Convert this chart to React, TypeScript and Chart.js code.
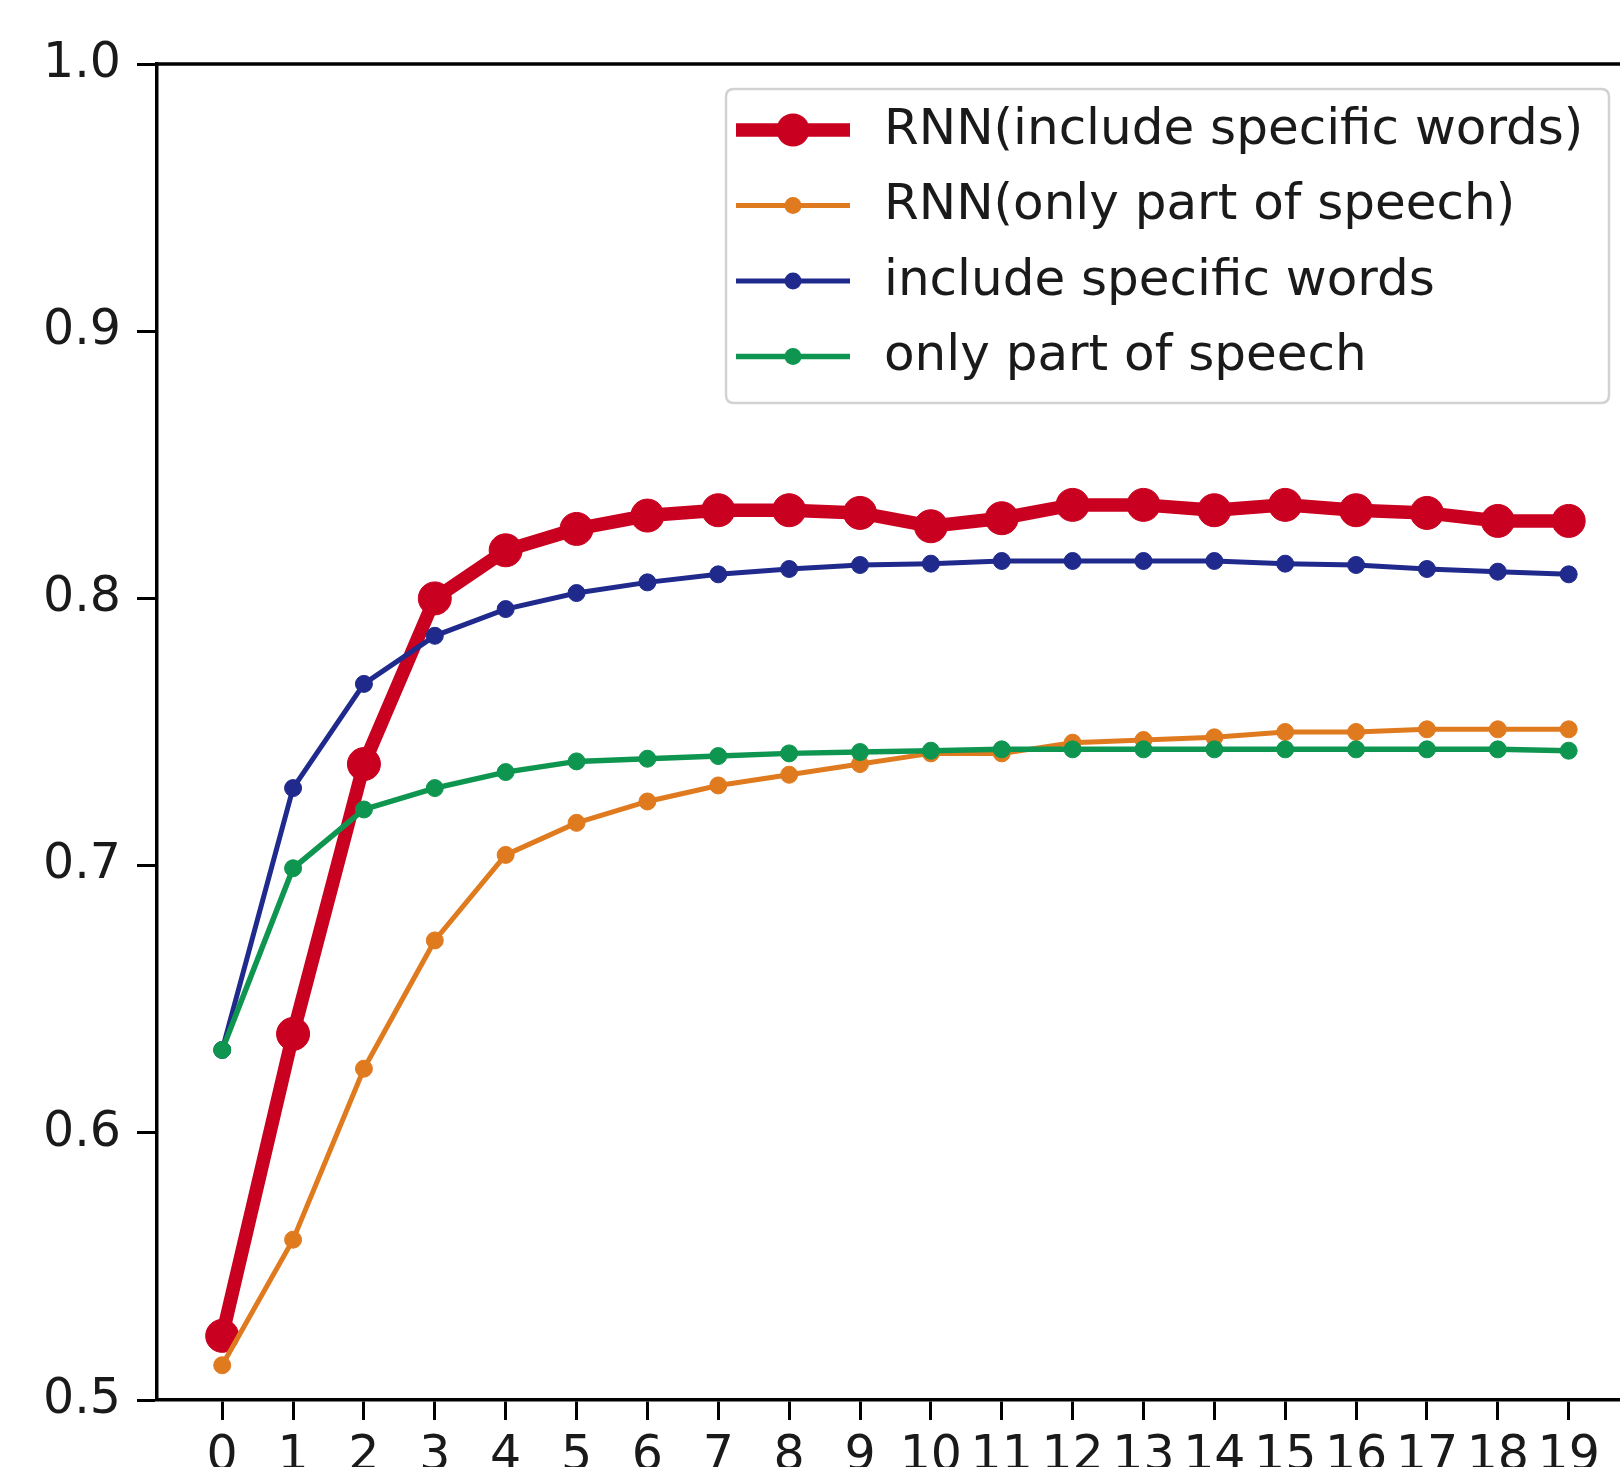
import React, { useEffect, useRef } from "react";
import { Chart, registerables } from "chart.js";

Chart.register(...registerables);

// ---- data ----
const epochs = [0, 1, 2, 3, 4, 5, 6, 7, 8, 9, 10, 11, 12, 13, 14, 15, 16, 17, 18, 19];
const xTickLabels = ["0", "1", "2", "3", "4", "5", "6", "7", "8", "9", "10", "11", "12", "13", "14", "15", "16", "17", "18", "19"];
const yTickValues = [0.5, 0.6, 0.7, 0.8, 0.9, 1.0];
const yTickLabels = ["0.5", "0.6", "0.7", "0.8", "0.9", "1.0"];

const seriesLabels = [
  "RNN(include specific words)",
  "RNN(only part of speech)",
  "include specific words",
  "only part of speech",
];

const rnnSpecificWords = [0.524, 0.637, 0.738, 0.800, 0.818, 0.826, 0.831, 0.833, 0.833, 0.832, 0.827, 0.830, 0.835, 0.835, 0.833, 0.835, 0.833, 0.832, 0.829, 0.829];
const rnnPartOfSpeech = [0.513, 0.560, 0.624, 0.672, 0.704, 0.716, 0.724, 0.730, 0.734, 0.738, 0.742, 0.742, 0.746, 0.747, 0.748, 0.750, 0.750, 0.751, 0.751, 0.751];
const specificWords = [0.631, 0.729, 0.768, 0.786, 0.796, 0.802, 0.806, 0.809, 0.811, 0.8125, 0.813, 0.814, 0.814, 0.814, 0.814, 0.813, 0.8125, 0.811, 0.810, 0.809];
const partOfSpeech = [0.631, 0.699, 0.721, 0.729, 0.735, 0.739, 0.740, 0.741, 0.742, 0.7425, 0.743, 0.7435, 0.7435, 0.7435, 0.7435, 0.7435, 0.7435, 0.7435, 0.7435, 0.743];

const seriesColors = ["#C9001F", "#E07A1F", "#1F2A8C", "#0E9650"];

const FONT = "'DejaVu Sans', sans-serif";

const frameAndLegend = {
  id: "frameAndLegend",
  afterDatasetsDraw(chart: any) {
    const ctx = chart.ctx as CanvasRenderingContext2D;
    const a = chart.chartArea;
    ctx.save();
    // top spine
    ctx.strokeStyle = "#000";
    ctx.lineWidth = 3.5;
    ctx.beginPath();
    ctx.moveTo(a.left - 1.75, a.top);
    ctx.lineTo(a.right, a.top);
    ctx.stroke();

    // legend box
    const bx = a.right - 910;
    const by = a.top + 25;
    const bw = 883;
    const bh = 314;
    const r = 8;
    ctx.beginPath();
    ctx.moveTo(bx + r, by);
    ctx.lineTo(bx + bw - r, by);
    ctx.quadraticCurveTo(bx + bw, by, bx + bw, by + r);
    ctx.lineTo(bx + bw, by + bh - r);
    ctx.quadraticCurveTo(bx + bw, by + bh, bx + bw - r, by + bh);
    ctx.lineTo(bx + r, by + bh);
    ctx.quadraticCurveTo(bx, by + bh, bx, by + bh - r);
    ctx.lineTo(bx, by + r);
    ctx.quadraticCurveTo(bx, by, bx + r, by);
    ctx.closePath();
    ctx.fillStyle = "rgba(255,255,255,0.85)";
    ctx.fill();
    ctx.strokeStyle = "#d2d2d2";
    ctx.lineWidth = 2.5;
    ctx.stroke();

    chart.data.datasets.forEach((ds: any, i: number) => {
      const y = by + 41 + i * 75.5;
      ctx.strokeStyle = ds.borderColor;
      ctx.lineWidth = ds.borderWidth;
      ctx.lineCap = "butt";
      ctx.beginPath();
      ctx.moveTo(bx + 10, y);
      ctx.lineTo(bx + 124, y);
      ctx.stroke();
      ctx.fillStyle = ds.pointBackgroundColor;
      ctx.beginPath();
      ctx.arc(bx + 67, y, ds.pointRadius, 0, Math.PI * 2);
      ctx.fill();
      ctx.fillStyle = "#1a1a1a";
      ctx.font = `50px ${FONT}`;
      ctx.textAlign = "left";
      ctx.textBaseline = "middle";
      ctx.fillText(ds.label, bx + 158, y + 1);
    });
    ctx.restore();
  },
};

export default function App() {
  const canvasRef = useRef<HTMLCanvasElement | null>(null);

  useEffect(() => {
    if (!canvasRef.current) return;
    const mk = (label: string, values: number[], color: string, width: number, radius: number, order: number) => ({
      label,
      data: epochs.map((e, i) => ({ x: e, y: values[i] })),
      borderColor: color,
      backgroundColor: color,
      pointBackgroundColor: color,
      pointBorderColor: color,
      borderWidth: width,
      pointRadius: radius,
      pointBorderWidth: 1,
      pointStyle: "circle",
      tension: 0,
      fill: false,
      order,
    });

    const tickFont = { family: FONT, size: 49 };

    const chart = new Chart(canvasRef.current, {
      type: "line",
      data: {
        datasets: [
          mk(seriesLabels[0], rnnSpecificWords, seriesColors[0], 13.5, 16.5, 4),
          mk(seriesLabels[1], rnnPartOfSpeech, seriesColors[1], 5, 8.5, 3),
          mk(seriesLabels[2], specificWords, seriesColors[2], 5, 8.5, 2),
          mk(seriesLabels[3], partOfSpeech, seriesColors[3], 5.5, 8.5, 1),
        ],
      },
      options: {
        animation: false,
        responsive: false,
        devicePixelRatio: 1,
        layout: { padding: { top: 64, right: 44, left: 0, bottom: 0 } },
        plugins: { legend: { display: false }, tooltip: { enabled: false } },
        scales: {
          x: {
            type: "linear",
            min: -0.92,
            max: 19.95,
            afterBuildTicks: (s: any) => {
              s.ticks = epochs.map((v) => ({ value: v }));
            },
            afterFit: (s: any) => {
              s.height = 67;
            },
            ticks: {
              autoSkip: false,
              maxRotation: 0,
              minRotation: 0,
              padding: 8,
              color: "#1a1a1a",
              font: tickFont,
              callback: (_v: any, i: number) => xTickLabels[i],
            },
            grid: { drawOnChartArea: false, drawTicks: true, tickLength: 20, tickWidth: 3, tickColor: "#000" },
            border: { display: true, color: "#000", width: 3.5 },
          },
          y: {
            type: "linear",
            min: 0.5,
            max: 1.0,
            afterBuildTicks: (s: any) => {
              s.ticks = yTickValues.map((v) => ({ value: v }));
            },
            afterFit: (s: any) => {
              s.width = 157;
            },
            ticks: {
              autoSkip: false,
              padding: 16,
              color: "#1a1a1a",
              font: tickFont,
              callback: (_v: any, i: number) => yTickLabels[i],
            },
            grid: { drawOnChartArea: false, drawTicks: true, tickLength: 20, tickWidth: 3, tickColor: "#000" },
            border: { display: true, color: "#000", width: 3.5 },
          },
        },
      },
      plugins: [frameAndLegend],
    } as any);

    return () => chart.destroy();
  }, []);

  return (
    <div
      style={{
        position: "fixed",
        left: 0,
        top: 0,
        width: 1620,
        height: 1467,
        overflow: "hidden",
        background: "#fff",
      }}
    >
      <canvas ref={canvasRef} width={1680} height={1467} style={{ width: 1680, height: 1467, display: "block" }} />
    </div>
  );
}
